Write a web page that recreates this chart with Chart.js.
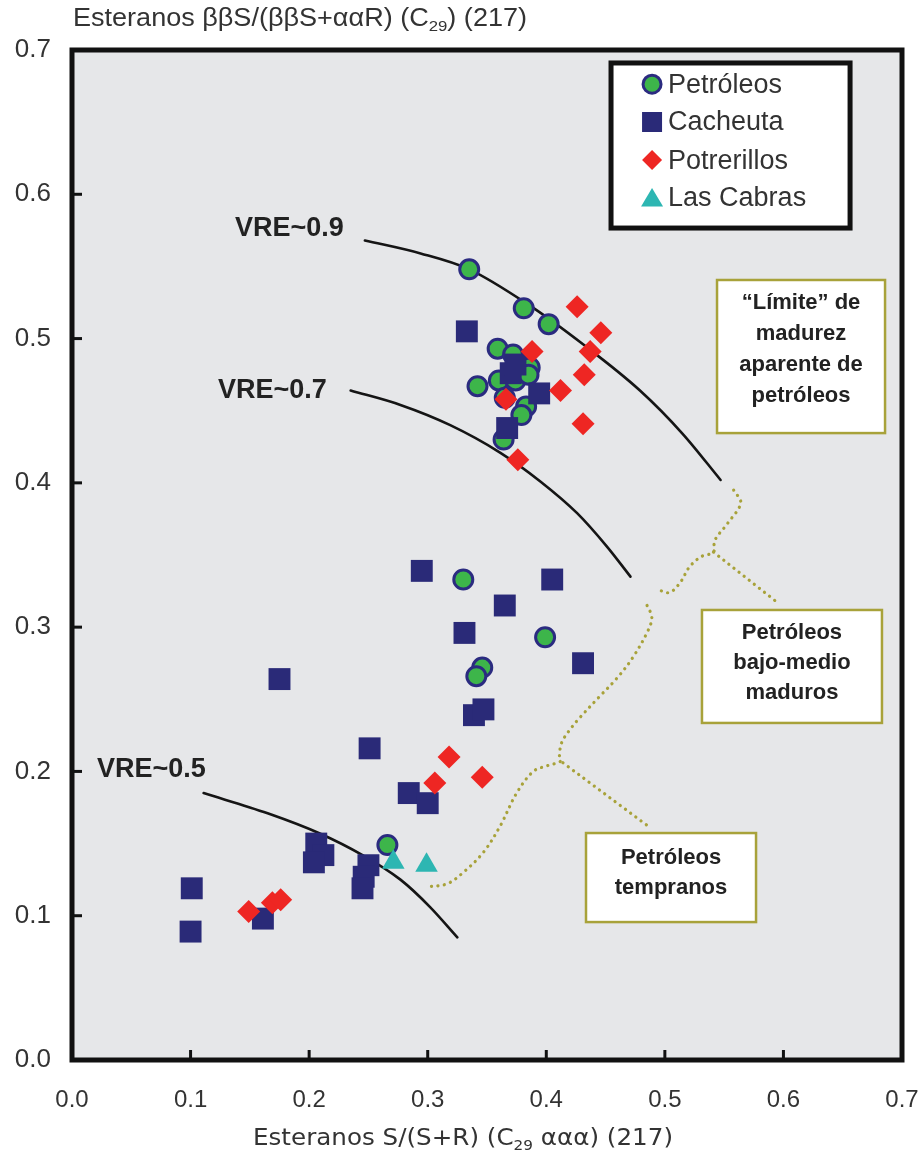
<!DOCTYPE html>
<html>
<head>
<meta charset="utf-8">
<script src="https://cdn.jsdelivr.net/npm/chart.js@4.4.0/dist/chart.umd.min.js"></script>
<style>
  html, body { margin: 0; padding: 0; background: #fff; overflow: hidden; }
  canvas { display: block; }
</style>
</head>
<body>
<canvas id="chart" width="921" height="1154"></canvas>
<script>
// series values (x = S/(S+R), y = bbS/(bbS+aaR))
const petroleosX = [0.335, 0.381, 0.402, 0.359, 0.372, 0.386, 0.342, 0.360, 0.374, 0.385, 0.365, 0.383, 0.379, 0.364, 0.330, 0.399, 0.346, 0.341, 0.266];
const petroleosY = [0.548, 0.521, 0.510, 0.493, 0.489, 0.480, 0.467, 0.471, 0.471, 0.475, 0.459, 0.453, 0.447, 0.430, 0.333, 0.293, 0.272, 0.266, 0.149];

const cacheutaX = [0.333, 0.370, 0.374, 0.394, 0.367, 0.295, 0.405, 0.365, 0.331, 0.431, 0.175, 0.339, 0.347, 0.251, 0.284, 0.300, 0.206, 0.212, 0.204, 0.250, 0.246, 0.245, 0.101, 0.100, 0.161];
const cacheutaY = [0.505, 0.476, 0.482, 0.462, 0.438, 0.339, 0.333, 0.315, 0.296, 0.275, 0.264, 0.239, 0.243, 0.216, 0.185, 0.178, 0.150, 0.142, 0.137, 0.135, 0.127, 0.119, 0.119, 0.089, 0.098];

const potrerillosX = [0.426, 0.446, 0.437, 0.388, 0.432, 0.412, 0.366, 0.431, 0.376, 0.318, 0.306, 0.346, 0.149, 0.169, 0.176];
const potrerillosY = [0.522, 0.504, 0.491, 0.491, 0.475, 0.464, 0.458, 0.441, 0.416, 0.210, 0.192, 0.196, 0.103, 0.109, 0.111];

const lasCabrasX = [0.271, 0.299];
const lasCabrasY = [0.137, 0.135];

// VRE iso-lines
const vre09X = [0.247, 0.294, 0.335, 0.384, 0.431, 0.479, 0.515, 0.547];
const vre09Y = [0.568, 0.559, 0.548, 0.524, 0.496, 0.464, 0.434, 0.402];
const vre07X = [0.235, 0.277, 0.319, 0.361, 0.395, 0.426, 0.451, 0.471];
const vre07Y = [0.464, 0.454, 0.440, 0.421, 0.401, 0.379, 0.356, 0.335];
const vre05X = [0.111, 0.165, 0.209, 0.245, 0.277, 0.302, 0.325];
const vre05Y = [0.185, 0.171, 0.157, 0.142, 0.125, 0.106, 0.085];

// dotted braces
const brace1X = [0.558, 0.564, 0.553, 0.542, 0.541, 0.531, 0.521, 0.513, 0.504, 0.494];
const brace1Y = [0.395, 0.386, 0.372, 0.360, 0.352, 0.349, 0.342, 0.331, 0.324, 0.326];
const brace1TipX = [0.541, 0.595];
const brace1TipY = [0.352, 0.317];
const brace2X = [0.485, 0.489, 0.486, 0.473, 0.460, 0.445, 0.428, 0.420, 0.413, 0.411, 0.412, 0.401, 0.389, 0.375, 0.361, 0.347, 0.330, 0.316, 0.299];
const brace2Y = [0.315, 0.307, 0.298, 0.279, 0.265, 0.252, 0.237, 0.229, 0.220, 0.210, 0.207, 0.204, 0.200, 0.185, 0.162, 0.144, 0.130, 0.122, 0.120];
const brace2TipX = [0.414, 0.486];
const brace2TipY = [0.206, 0.162];

const seriesNames = ["Petróleos", "Cacheuta", "Potrerillos", "Las Cabras"];
const tickValues = [0, 0.1, 0.2, 0.3, 0.4, 0.5, 0.6, 0.7];
const vreLabels = ["VRE~0.9", "VRE~0.7", "VRE~0.5"];

const FONT = "'Liberation Sans', Arial, sans-serif";

// annotation placement (data units)
const vrePos = [[0.1375, 0.5766], [0.1231, 0.4643], [0.0211, 0.2010]];
const boxes = [
  { x0: 0.544, x1: 0.6857, y0: 0.5406, y1: 0.4345, lines: ["\u201cLímite\u201d de", "madurez", "aparente de", "petróleos"], ly: [0.5246, 0.5032, 0.4817, 0.4602] },
  { x0: 0.5313, x1: 0.6831, y0: 0.3119, y1: 0.2336, lines: ["Petróleos", "bajo-medio", "maduros"], ly: [0.2959, 0.2751, 0.2543] },
  { x0: 0.4335, x1: 0.5769, y0: 0.1573, y1: 0.0956, lines: ["Petróleos", "tempranos"], ly: [0.1400, 0.1192] }
];
const legendBox = { x0: 0.4546, x1: 0.6562, y0: 0.6910, y1: 0.5766, markX: 0.4892, textX: 0.5027, rows: [0.6763, 0.6501, 0.6237, 0.5974] };

const styles = [
  { pointStyle: "circle", pointRadius: 9.5, pointBackgroundColor: "#3db54a", pointBorderColor: "#2b2b80", pointBorderWidth: 3 },
  { pointStyle: "rect", pointRadius: 15.5, pointBackgroundColor: "#2a2a78", pointBorderColor: "#2a2a78", pointBorderWidth: 0 },
  { pointStyle: "rectRot", pointRadius: 11.5, pointBackgroundColor: "#ee2623", pointBorderColor: "#ee2623", pointBorderWidth: 0 },
  { pointStyle: "triangle", pointRadius: 13, pointBackgroundColor: "#2db6b2", pointBorderColor: "#2db6b2", pointBorderWidth: 0 }
];

function toPoints(xs, ys) {
  return xs.map((x, i) => ({ x: x, y: ys[i] }));
}

function curve(xs, ys, dotted) {
  return {
    data: toPoints(xs, ys),
    showLine: true,
    pointRadius: 0,
    borderColor: dotted ? "#a8a23a" : "#151515",
    borderWidth: dotted ? 3.2 : 2.6,
    borderDash: dotted ? [0.1, 6.4] : [],
    borderCapStyle: "round",
    tension: dotted ? 0.35 : 0.4,
    cubicInterpolationMode: dotted ? "default" : "monotone",
    order: 10
  };
}

function drawMarker(c, st, x, y, r) {
  c.save();
  c.fillStyle = st.pointBackgroundColor;
  c.strokeStyle = st.pointBorderColor;
  c.lineWidth = st.pointBorderWidth;
  c.beginPath();
  if (st.pointStyle === "circle") {
    c.arc(x, y, r * 0.9, 0, Math.PI * 2);
  } else if (st.pointStyle === "rect") {
    c.rect(x - r, y - r, 2 * r, 2 * r);
  } else if (st.pointStyle === "rectRot") {
    c.moveTo(x, y - r); c.lineTo(x + r, y); c.lineTo(x, y + r); c.lineTo(x - r, y);
  } else {
    c.moveTo(x, y - r); c.lineTo(x + r * 1.1, y + r * 0.85); c.lineTo(x - r * 1.1, y + r * 0.85);
  }
  c.closePath();
  c.fill();
  if (st.pointBorderWidth) c.stroke();
  c.restore();
}

function drawRich(c, segs, x, y, size, family, fitWidth) {
  c.save();
  const widths = segs.map(s => {
    c.font = (s.sub ? size * 0.62 : size) + "px " + family;
    return c.measureText(s.t).width;
  });
  const total = widths.reduce((a, b) => a + b, 0);
  c.translate(x, y);
  c.scale(fitWidth / total, 1);
  c.textBaseline = "middle";
  c.textAlign = "left";
  c.fillStyle = "#333";
  let cx = 0;
  segs.forEach((s, i) => {
    c.font = (s.sub ? size * 0.62 : size) + "px " + family;
    c.fillText(s.t, cx, s.sub ? size * 0.3 : 0);
    cx += widths[i];
  });
  c.restore();
}

const decor = {
  id: "decor",
  beforeDatasetsDraw(chart) {
    const { ctx: c, chartArea: a } = chart;
    c.save();
    c.fillStyle = "#e6e7e9";
    c.fillRect(a.left, a.top, a.right - a.left, a.bottom - a.top);
    c.restore();
  },
  afterDatasetsDraw(chart) {
    const { ctx: c, chartArea: a } = chart;
    const xs = chart.scales.x, ys = chart.scales.y;
    c.save();

    // text boxes
    boxes.forEach(b => {
      const l = xs.getPixelForValue(b.x0), r = xs.getPixelForValue(b.x1);
      const t = ys.getPixelForValue(b.y0), bt = ys.getPixelForValue(b.y1);
      c.fillStyle = "#fff";
      c.fillRect(l, t, r - l, bt - t);
      c.strokeStyle = "#a8a23a";
      c.lineWidth = 2.5;
      c.strokeRect(l, t, r - l, bt - t);
      c.fillStyle = "#222";
      c.font = "bold 22px " + FONT;
      c.textAlign = "center";
      c.textBaseline = "middle";
      const cx = (l + r) / 2;
      b.lines.forEach((ln, i) => c.fillText(ln, cx, ys.getPixelForValue(b.ly[i])));
    });

    // VRE labels
    c.fillStyle = "#222";
    c.font = "bold 27px " + FONT;
    c.textAlign = "left";
    c.textBaseline = "middle";
    vreLabels.forEach((t, i) => c.fillText(t, xs.getPixelForValue(vrePos[i][0]), ys.getPixelForValue(vrePos[i][1])));

    // legend
    const L = legendBox;
    const ll = xs.getPixelForValue(L.x0), lr = xs.getPixelForValue(L.x1);
    const lt = ys.getPixelForValue(L.y0), lb = ys.getPixelForValue(L.y1);
    c.fillStyle = "#fff";
    c.fillRect(ll, lt, lr - ll, lb - lt);
    c.strokeStyle = "#111";
    c.lineWidth = 5;
    c.strokeRect(ll, lt, lr - ll, lb - lt);
    seriesNames.forEach((name, i) => {
      const y = ys.getPixelForValue(L.rows[i]);
      drawMarker(c, styles[i], xs.getPixelForValue(L.markX), y, 10);
      c.fillStyle = "#333";
      c.font = "27px " + FONT;
      c.textAlign = "left";
      c.textBaseline = "middle";
      c.fillText(name, xs.getPixelForValue(L.textX), y + 1);
    });

    // frame and inner ticks
    c.strokeStyle = "#111";
    c.lineWidth = 5;
    c.strokeRect(a.left, a.top, a.right - a.left, a.bottom - a.top);
    c.lineWidth = 3;
    tickValues.slice(1, -1).forEach(v => {
      const px = xs.getPixelForValue(v);
      c.beginPath(); c.moveTo(px, a.bottom); c.lineTo(px, a.bottom - 10); c.stroke();
      const py = ys.getPixelForValue(v);
      c.beginPath(); c.moveTo(a.left, py); c.lineTo(a.left + 10, py); c.stroke();
    });
    c.restore();
  },
  afterDraw(chart) {
    const c = chart.ctx;
    drawRich(c, [{ t: "Esteranos ββS/(ββS+ααR) (C" }, { t: "29", sub: true }, { t: ") (217)" }], 73, 19, 25, FONT, 454);
    drawRich(c, [{ t: "Esteranos S/(S+R) (C" }, { t: "29", sub: true }, { t: " ααα) (217)" }], 253, 1139, 23, "'DejaVu Sans', sans-serif", 420);
  }
};

const datasets = [
  Object.assign({ label: seriesNames[3], data: toPoints(lasCabrasX, lasCabrasY), order: 1 }, styles[3]),
  Object.assign({ label: seriesNames[2], data: toPoints(potrerillosX, potrerillosY), order: 2 }, styles[2]),
  Object.assign({ label: seriesNames[1], data: toPoints(cacheutaX, cacheutaY), order: 3 }, styles[1]),
  Object.assign({ label: seriesNames[0], data: toPoints(petroleosX, petroleosY), order: 4 }, styles[0]),
  curve(vre09X, vre09Y, false),
  curve(vre07X, vre07Y, false),
  curve(vre05X, vre05Y, false),
  curve(brace1X, brace1Y, true),
  curve(brace1TipX, brace1TipY, true),
  curve(brace2X, brace2Y, true),
  curve(brace2TipX, brace2TipY, true)
];

new Chart(document.getElementById("chart"), {
  type: "scatter",
  data: { datasets: datasets },
  plugins: [decor],
  options: {
    responsive: false,
    animation: false,
    events: [],
    layout: { padding: { top: 50, right: 19, left: 0, bottom: 0 } },
    plugins: { legend: { display: false }, tooltip: { enabled: false } },
    scales: {
      x: {
        type: "linear",
        min: 0,
        max: 0.7,
        afterFit: s => { s.height = 94; s.paddingLeft = 0; s.paddingRight = 0; },
        afterBuildTicks: s => { s.ticks = tickValues.map(v => ({ value: v })); },
        grid: { display: false, drawTicks: false },
        border: { display: false },
        ticks: { padding: 26, color: "#333", font: { family: FONT, size: 24 }, callback: v => v.toFixed(1) }
      },
      y: {
        type: "linear",
        min: 0,
        max: 0.7,
        afterFit: s => { s.width = 72; s.paddingTop = 0; s.paddingBottom = 0; },
        afterBuildTicks: s => { s.ticks = tickValues.map(v => ({ value: v })); },
        grid: { display: false, drawTicks: false },
        border: { display: false },
        ticks: { padding: 21, color: "#333", font: { family: FONT, size: 26 }, callback: v => v.toFixed(1) }
      }
    }
  }
});
</script>
</body>
</html>
